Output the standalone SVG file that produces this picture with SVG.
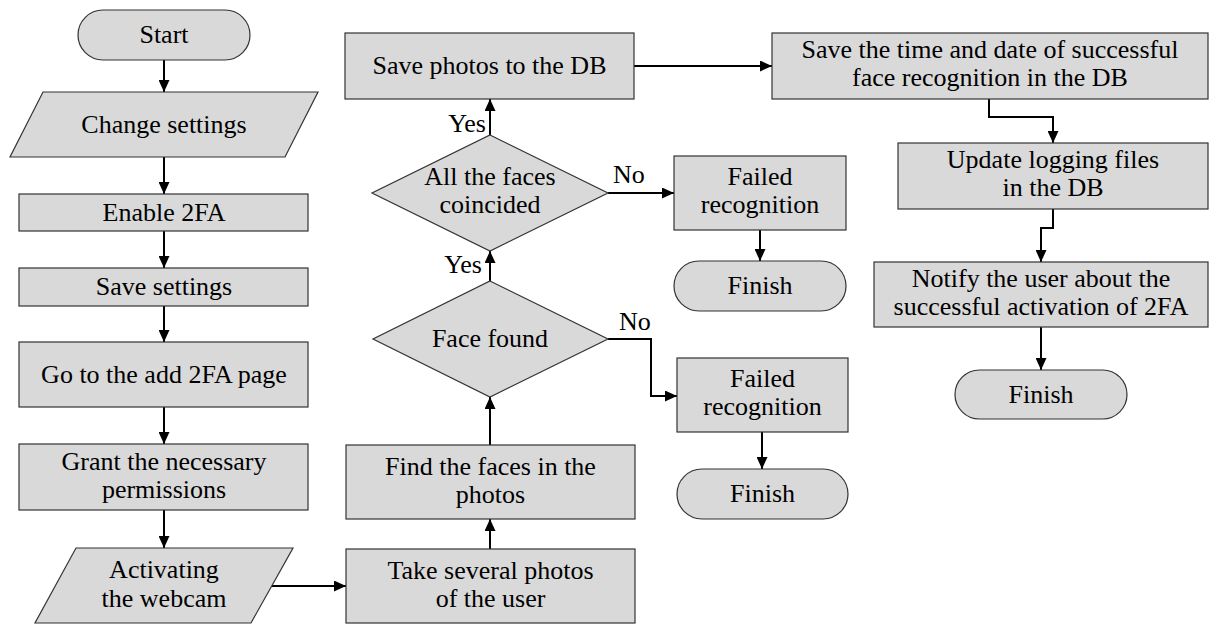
<svg xmlns="http://www.w3.org/2000/svg" width="1209" height="624" viewBox="0 0 1209 624" font-family="Liberation Serif, DejaVu Serif, serif" font-size="26">
<style>
.n{fill:#d9d9d9;stroke:#333;stroke-width:1.2}
text{font-family:"Liberation Serif",serif}
.t{fill:#000;text-anchor:middle}
.l{fill:#000}
.c{fill:none;stroke:#000;stroke-width:2;marker-end:url(#ah)}
</style>
<defs>
<marker id="ah" markerWidth="12" markerHeight="11" refX="12" refY="5.5" orient="auto" markerUnits="userSpaceOnUse"><path d="M0,0 L12,5.5 L0,11 z" fill="#000"/></marker>
</defs>
<g id="connectors">
<path class="c" d="M164,60 V92"/>
<path class="c" d="M164,157 V194"/>
<path class="c" d="M164,231 V268"/>
<path class="c" d="M164,306 V342"/>
<path class="c" d="M164,407 V444"/>
<path class="c" d="M164,510 V548"/>
<path class="c" d="M272,586 H346"/>
<path class="c" d="M490,549 V519"/>
<path class="c" d="M490,445 V397"/>
<path class="c" d="M490,281 V251"/>
<path class="c" d="M490,135 V99"/>
<path class="c" d="M608,193 H674"/>
<path class="c" d="M760,230 V261"/>
<path class="c" d="M608,339 H651 V396 H677"/>
<path class="c" d="M762,432 V469"/>
<path class="c" d="M634,66 H772"/>
<path class="c" d="M989,99 V117 H1053 V143"/>
<path class="c" d="M1053,209 V228 H1041 V262"/>
<path class="c" d="M1041,327 V370"/>
</g>
<g id="labels">
<text class="l" x="486" y="132" text-anchor="end">Yes</text>
<text class="l" x="482" y="273" text-anchor="end">Yes</text>
<text class="l" x="613" y="183">No</text>
<text class="l" x="619" y="330">No</text>
</g>
<g id="start"><rect class="n" x="78" y="10" width="172" height="50" rx="25"/><text class="t" x="164" y="43">Start</text></g>
<g id="change-settings"><polygon class="n" points="43,92 318,92 285,157 10,157"/><text class="t" x="164" y="133">Change settings</text></g>
<g id="enable-2fa"><rect class="n" x="19" y="194" width="289" height="37"/><text class="t" x="164" y="221">Enable 2FA</text></g>
<g id="save-settings"><rect class="n" x="19" y="268" width="289" height="38"/><text class="t" x="164" y="295">Save settings</text></g>
<g id="go-add-2fa"><rect class="n" x="19" y="342" width="289" height="65"/><text class="t" x="164" y="383">Go to the add 2FA page</text></g>
<g id="grant"><rect class="n" x="19" y="444" width="289" height="66"/><text class="t" x="164" y="470">Grant the necessary</text><text class="t" x="164" y="498">permissions</text></g>
<g id="activating"><polygon class="n" points="76,548 293,548 251,623 35,623"/><text class="t" x="164" y="578">Activating</text><text class="t" x="164" y="607">the webcam</text></g>
<g id="take-photos"><rect class="n" x="346" y="549" width="289" height="74"/><text class="t" x="490.5" y="579">Take several photos</text><text class="t" x="490.5" y="607">of the user</text></g>
<g id="find-faces"><rect class="n" x="346" y="445" width="289" height="74"/><text class="t" x="490.5" y="475">Find the faces in the</text><text class="t" x="490.5" y="503">photos</text></g>
<g id="face-found"><polygon class="n" points="490,281 608,339 490,397 373,339"/><text class="t" x="490" y="347">Face found</text></g>
<g id="all-faces"><polygon class="n" points="490,135 608,193 490,251 372,193"/><text class="t" x="490" y="185">All the faces</text><text class="t" x="490" y="213">coincided</text></g>
<g id="save-photos"><rect class="n" x="345" y="33" width="289" height="66"/><text class="t" x="489.5" y="74">Save photos to the DB</text></g>
<g id="failed-1"><rect class="n" x="674" y="156" width="172" height="74"/><text class="t" x="760" y="185">Failed</text><text class="t" x="760" y="213">recognition</text></g>
<g id="finish-1"><rect class="n" x="674" y="261" width="172" height="50" rx="25"/><text class="t" x="760" y="294">Finish</text></g>
<g id="failed-2"><rect class="n" x="677" y="358" width="171" height="74"/><text class="t" x="762.5" y="387">Failed</text><text class="t" x="762.5" y="415">recognition</text></g>
<g id="finish-2"><rect class="n" x="677" y="469" width="171" height="50" rx="25"/><text class="t" x="762.5" y="502">Finish</text></g>
<g id="save-time"><rect class="n" x="772" y="33" width="436" height="66"/><text class="t" x="990" y="58">Save the time and date of successful</text><text class="t" x="990" y="86">face recognition in the DB</text></g>
<g id="update-logs"><rect class="n" x="898" y="143" width="310" height="66"/><text class="t" x="1053" y="168">Update logging files</text><text class="t" x="1053" y="196">in the DB</text></g>
<g id="notify"><rect class="n" x="874" y="262" width="334" height="65"/><text class="t" x="1041" y="287">Notify the user about the</text><text class="t" x="1041" y="315">successful activation of 2FA</text></g>
<g id="finish-3"><rect class="n" x="955" y="370" width="172" height="49" rx="24.5"/><text class="t" x="1041" y="403">Finish</text></g>
</svg>
